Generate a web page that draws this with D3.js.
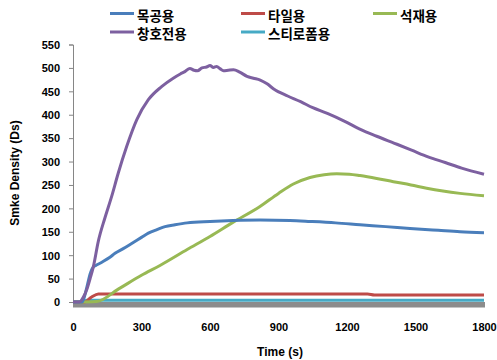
<!DOCTYPE html>
<html>
<head>
<meta charset="utf-8">
<script src="https://cdn.jsdelivr.net/npm/d3@7"></script>
<style>
  body { margin: 0; background: #fff; }
  svg { display: block; }
  text { font-family: "Liberation Sans", Arial, sans-serif; font-weight: bold; fill: #000; }
  .leg text { font-family: "Noto Sans CJK KR", sans-serif; }
</style>
</head>
<body>
<div id="main"></div>
<script>
// time (s) and smoke density values
const woodT = [0, 40, 60, 75, 89, 100, 130, 160, 184, 220, 257, 300, 330, 370, 403, 447, 500, 600, 700, 819, 950, 1038, 1150, 1257, 1370, 1476, 1600, 1695, 1800];
const woodV = [0, 0, 30, 60, 75, 78, 86, 95, 104, 114, 125, 138, 147, 155, 161, 165, 169, 172, 174, 175, 174, 172, 169, 165, 161, 157, 153, 150, 148];

const tileT = [0, 50, 80, 111, 300, 600, 900, 1200, 1290, 1320, 1500, 1800];
const tileV = [0, 0, 10, 17, 17, 17, 17, 17, 17, 15, 15, 15];

const stoneT = [0, 104, 200, 300, 381, 500, 600, 700, 819, 900, 965, 1038, 1100, 1155, 1210, 1257, 1330, 1403, 1480, 1549, 1620, 1695, 1800];
const stoneV = [0, 1, 28, 57, 78, 112, 140, 170, 204, 232, 252, 266, 272, 274, 273, 270, 264, 257, 250, 243, 237, 232, 227];

const windowT = [0, 28, 45, 60, 75, 89, 111, 140, 169, 198, 235, 279, 330, 388, 439, 470, 490, 512, 530, 545, 565, 585, 600, 615, 629, 645, 659, 680, 703, 730, 762, 790, 820, 850, 879, 940, 997, 1050, 1114, 1190, 1261, 1330, 1408, 1480, 1555, 1630, 1702, 1800];
const windowV = [0, 0, 10, 26, 50, 75, 130, 180, 225, 275, 332, 389, 432, 460, 478, 487, 492, 499, 495, 494, 500, 502, 505, 501, 503, 498, 494, 495, 496, 491, 482, 478, 474, 466, 455, 440, 428, 415, 403, 386, 368, 354, 339, 325, 310, 298, 286, 273];

const foamT = [0, 40, 60, 1800];
const foamV = [0, 0, 4, 4];

const seriesNames = ['목공용', '타일용', '석재용', '창호전용', '스티로폼용'];
const seriesColors = ['#4A7EBB', '#BE4B48', '#98B954', '#7D60A0', '#46AAC5'];
const yTicks = d3.range(0, 551, 50);
const xTicks = [0, 300, 600, 900, 1200, 1500, 1800];

const W = 497, H = 360;
const svg = d3.select('#main').append('svg').attr('width', W).attr('height', H);

const x = d3.scaleLinear().domain([0, 1800]).range([73, 484]);
const y = d3.scaleLinear().domain([0, 550]).range([302, 44.5]);

// y axis
const yAxis = svg.append('g').attr('transform', 'translate(73,0)')
    .call(d3.axisLeft(y).tickValues(yTicks).tickSize(4).tickPadding(9));
yAxis.select('.domain').attr('stroke', '#868686');
yAxis.selectAll('.tick line').attr('stroke', '#868686');
yAxis.selectAll('.tick text').attr('font-size', 11).attr('font-family', null).attr('dy', '0.35em');

// x tick labels
const xAxis = svg.append('g').attr('transform', 'translate(0,302)')
    .call(d3.axisBottom(x).tickValues(xTicks).tickFormat(d3.format('d')).tickSize(0).tickPadding(21));
xAxis.select('.domain').remove();
xAxis.selectAll('.tick text').attr('font-size', 11).attr('font-family', null);

const series = [
    { t: woodT, v: woodV },
    { t: tileT, v: tileV },
    { t: stoneT, v: stoneV },
    { t: windowT, v: windowV },
    { t: foamT, v: foamV }
];

const line = d3.line().curve(d3.curveMonotoneX).x(d => x(d[0])).y(d => y(d[1]));

// gray base band under the zero line
svg.append('line')
    .attr('x1', x(0)).attr('x2', x(1800) + 1)
    .attr('y1', y(0) + 2.8).attr('y2', y(0) + 2.8)
    .attr('stroke', '#8C8C8C').attr('stroke-width', 5.5);

// draw order so purple sits over others like the reference
[4, 1, 2, 0, 3].forEach(i => {
    const s = series[i];
    svg.append('path')
        .datum(s.t.map((t, j) => [t, s.v[j]]))
        .attr('d', line)
        .attr('fill', 'none')
        .attr('stroke', seriesColors[i])
        .attr('stroke-width', 3)
        .attr('stroke-linejoin', 'round');
});

// legend
const legPos = [[110, 13.5], [241, 13.5], [373, 13.5], [110, 32], [241, 32]];
const leg = svg.append('g').attr('class', 'leg');
seriesNames.forEach((name, i) => {
    const [lx, ly] = legPos[i];
    leg.append('line')
        .attr('x1', lx).attr('x2', lx + 24).attr('y1', ly).attr('y2', ly)
        .attr('stroke', seriesColors[i]).attr('stroke-width', 3);
    leg.append('text')
        .attr('x', lx + 27).attr('y', ly + 7)
        .attr('font-size', 13.5)
        .text(name);
});

// axis titles
svg.append('text')
    .attr('transform', 'translate(19,173) rotate(-90)')
    .attr('text-anchor', 'middle')
    .attr('font-size', 12)
    .text('Smke Density (Ds)');

svg.append('text')
    .attr('x', 280).attr('y', 356)
    .attr('text-anchor', 'middle')
    .attr('font-size', 12)
    .text('Time (s)');
</script>
</body>
</html>
